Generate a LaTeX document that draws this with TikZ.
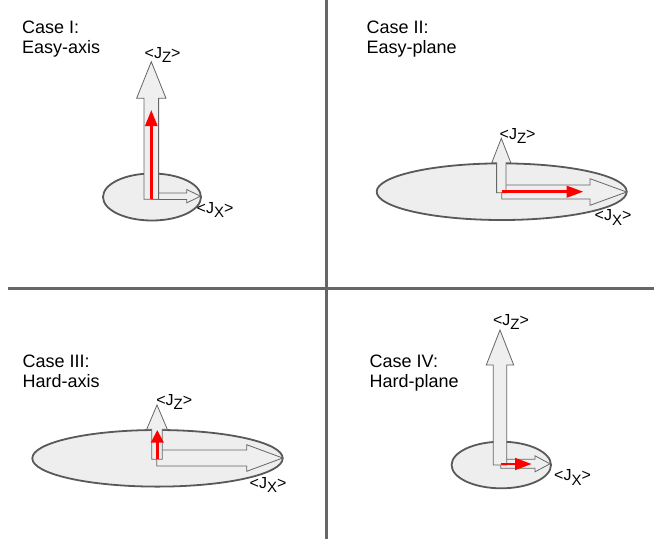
\documentclass[tikz,border=0pt]{standalone}
\usepackage{fontspec}
\setmainfont{Liberation Sans}
\usetikzlibrary{arrows.meta}
\definecolor{divgray}{HTML}{666666}
\definecolor{ellgray}{HTML}{595959}
\definecolor{ellfill}{HTML}{EEEEEE}
\definecolor{arrfill}{HTML}{EFEFEF}
\definecolor{arrline}{HTML}{666666}
\definecolor{vecred}{HTML}{FF0000}
\tikzset{
  divider/.style={draw=divgray,line width=2.5pt},
  disc/.style={draw=ellgray,fill=ellfill,line width=1.8pt},
  blockarrow/.style={draw=arrline,fill=arrfill,line width=0.8pt,line join=miter},
  redvec/.style 2 args={draw=vecred,line width=2.6pt,-{Triangle[length=#1,width=#2]}},
  casetext/.style={inner sep=0pt,anchor=base west,font=\fontsize{18}{20}\selectfont},
  jlabel/.style={inner sep=0pt,anchor=base west,font=\fontsize{16}{18}\selectfont},
}
% vertical block arrow: cx, ybottom, ybase, ytip, shaft half width, head half width
\newcommand{\vblockarrow}[6]{%
  \filldraw[blockarrow] (#1-#5,#2) -- (#1-#5,#3) -- (#1-#6,#3) -- (#1,#4) -- (#1+#6,#3) -- (#1+#5,#3) -- (#1+#5,#2) -- cycle;}
% horizontal block arrow: cy, xleft, xbase, xtip, shaft half height, head half height
\newcommand{\hblockarrow}[6]{%
  \filldraw[blockarrow] (#2,#1-#5) -- (#3,#1-#5) -- (#3,#1-#6) -- (#4,#1) -- (#3,#1+#6) -- (#3,#1+#5) -- (#2,#1+#5) -- cycle;}
\newcommand{\jz}{<J\raisebox{-4.5pt}{\fontsize{15}{15}\selectfont Z}>}
\newcommand{\jx}{<J\raisebox{-4.5pt}{\fontsize{15}{15}\selectfont X}>}
\begin{document}
\begin{tikzpicture}[x=1pt,y=-1pt]
\useasboundingbox (0,0) rectangle (654,539);
\fill[white] (0,0) rectangle (654,539);
% dividers
\coordinate (vt) at (326.5,0);
\coordinate (vb) at (326.5,539);
\coordinate (hl) at (7.5,288.5);
\coordinate (hr) at (654,288.5);
\draw[divider] (vt) -- (vb);
\draw[divider] (hl) -- (hr);

% ---------- Case I ----------
\node[casetext] (c1a) at (22,33.3) {Case I:};
\node[casetext] (c1b) at (22,53.3) {Easy-axis};
\draw[disc] (152,197) ellipse [x radius=49,y radius=23.5];
\hblockarrow{196.2}{151.3}{186.7}{200.5}{3.3}{6.7}
\vblockarrow{151.3}{199.3}{98.3}{61.7}{7.3}{14.7}
\coordinate (r1a) at (151.3,199);
\coordinate (r1b) at (151.3,110);
\draw[redvec={16pt}{12pt}] (r1a) -- (r1b);
\node[jlabel] (z1) at (144.5,58.3) {\jz};
\node[jlabel] (x1) at (196.5,213) {\jx};

% ---------- Case II ----------
\node[casetext] (c2a) at (366.5,33.3) {Case II:};
\node[casetext] (c2b) at (366.5,53.3) {Easy-plane};
\draw[disc] (501.7,191.7) ellipse [x radius=125,y radius=28.3];
\hblockarrow{192}{501.7}{590}{626.7}{7}{13.3}
\vblockarrow{501.3}{192.7}{162.7}{138.3}{4.7}{9.5}
\coordinate (r2a) at (501.7,191.7);
\coordinate (r2b) at (583.3,191.7);
\draw[redvec={16.6pt}{11.4pt}] (r2a) -- (r2b);
\node[jlabel] (z2) at (499.5,139.3) {\jz};
\node[jlabel] (x2) at (594.5,220.7) {\jx};

% ---------- Case III ----------
\node[casetext] (c3a) at (22.5,367.3) {Case III:};
\node[casetext] (c3b) at (22.5,387.3) {Hard-axis};
\draw[disc] (157.5,458.3) ellipse [x radius=125.2,y radius=28.3];
\hblockarrow{458}{156.7}{246.7}{282.7}{8}{13.3}
\vblockarrow{157}{459.3}{429.3}{405}{5.3}{10.3}
\coordinate (r3a) at (157.3,459.3);
\coordinate (r3b) at (157.3,430);
\draw[redvec={12.7pt}{12.4pt}] (r3a) -- (r3b);
\node[jlabel] (z3) at (156.2,405) {\jz};
\node[jlabel] (x3) at (249.5,488.3) {\jx};

% ---------- Case IV ----------
\node[casetext] (c4a) at (369.5,367.3) {Case IV:};
\node[casetext] (c4b) at (369.5,387.3) {Hard-plane};
\draw[disc] (501.3,465) ellipse [x radius=49.7,y radius=23.3];
\hblockarrow{463.8}{500.7}{535}{550}{4.5}{8}
\vblockarrow{500}{465}{365}{330}{6.7}{13.7}
\coordinate (r4a) at (500.7,464);
\coordinate (r4b) at (531.7,464);
\draw[redvec={16.7pt}{11.7pt}] (r4a) -- (r4b);
\node[jlabel] (z4) at (492.8,325) {\jz};
\node[jlabel] (x4) at (554,480.5) {\jx};
\end{tikzpicture}
\end{document}
